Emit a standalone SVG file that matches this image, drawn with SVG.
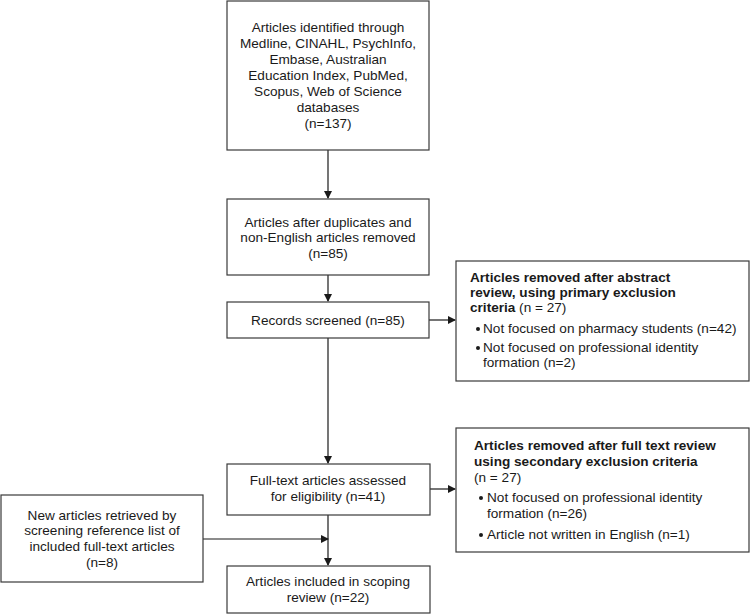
<svg xmlns="http://www.w3.org/2000/svg" width="754" height="614" viewBox="0 0 754 614">
<style>
.box{fill:#fff;stroke:#3a3a3a;stroke-width:1.2}
.t{font-family:"Liberation Sans",Arial,sans-serif;font-size:13.6px;fill:#1a1a1a}
.c{text-anchor:middle}
.b{font-weight:bold}
.d{fill:#1a1a1a}
.ln{stroke:#1a1a1a;stroke-width:1.2;fill:none}
</style>
<defs>
<marker id="ah" markerWidth="8" markerHeight="8" refX="7" refY="4" orient="auto" markerUnits="userSpaceOnUse">
<path d="M0,0 L8,4 L0,8 Z" fill="#1a1a1a"/>
</marker>
</defs>
<rect width="754" height="614" fill="#fff"/>
<g id="connectors">
<line class="ln" x1="328" y1="150" x2="328" y2="198" marker-end="url(#ah)"/>
<line class="ln" x1="328" y1="275" x2="328" y2="301" marker-end="url(#ah)"/>
<line class="ln" x1="328" y1="338" x2="328" y2="463" marker-end="url(#ah)"/>
<line class="ln" x1="328" y1="515" x2="328" y2="565" marker-end="url(#ah)"/>
<line class="ln" x1="429" y1="320" x2="455" y2="320" marker-end="url(#ah)"/>
<line class="ln" x1="430" y1="489" x2="455" y2="489" marker-end="url(#ah)"/>
<line class="ln" x1="203" y1="539" x2="328" y2="539" marker-end="url(#ah)"/>
</g>
<g id="n1">
<rect class="box" x="227" y="1" width="202" height="149"/>
<text class="t c" x="328" y="32">Articles identified through</text>
<text class="t c" x="328" y="48">Medline, CINAHL, PsychInfo,</text>
<text class="t c" x="328" y="64">Embase, Australian</text>
<text class="t c" x="328" y="80">Education Index, PubMed,</text>
<text class="t c" x="328" y="96">Scopus, Web of Science</text>
<text class="t c" x="328" y="112">databases</text>
<text class="t c" x="328" y="128">(n=137)</text>
</g>
<g id="n2">
<rect class="box" x="227" y="199" width="202" height="76"/>
<text class="t c" x="328" y="227">Articles after duplicates and</text>
<text class="t c" x="328" y="242">non-English articles removed</text>
<text class="t c" x="328" y="258">(n=85)</text>
</g>
<g id="n3">
<rect class="box" x="227" y="302" width="202" height="36"/>
<text class="t c" x="328" y="325">Records screened (n=85)</text>
</g>
<g id="n4">
<rect class="box" x="456" y="261" width="293" height="120"/>
<text class="t b" x="470" y="282">Articles removed after abstract</text>
<text class="t b" x="470" y="297">review, using primary exclusion</text>
<text class="t" x="470" y="312"><tspan class="b">criteria</tspan> (n = 27)</text>
<circle class="d" cx="478" cy="329" r="2"/>
<text class="t" x="483" y="333">Not focused on pharmacy students (n=42)</text>
<circle class="d" cx="478" cy="348" r="2"/>
<text class="t" x="483" y="352">Not focused on professional identity</text>
<text class="t" x="483" y="367">formation (n=2)</text>
</g>
<g id="n5">
<rect class="box" x="227" y="464" width="203" height="51"/>
<text class="t c" x="328" y="485">Full-text articles assessed</text>
<text class="t c" x="328" y="501">for eligibility (n=41)</text>
</g>
<g id="n6">
<rect class="box" x="456" y="428" width="293" height="124"/>
<text class="t b" x="474" y="450">Articles removed after full text review</text>
<text class="t b" x="474" y="466">using secondary exclusion criteria</text>
<text class="t" x="474" y="482">(n = 27)</text>
<circle class="d" cx="481" cy="498" r="2"/>
<text class="t" x="487" y="502">Not focused on professional identity</text>
<text class="t" x="487" y="518">formation (n=26)</text>
<circle class="d" cx="481" cy="535" r="2"/>
<text class="t" x="487" y="539">Article not written in English (n=1)</text>
</g>
<g id="n7">
<rect class="box" x="1" y="495" width="202" height="87"/>
<text class="t c" x="102" y="520">New articles retrieved by</text>
<text class="t c" x="102" y="535">screening reference list of</text>
<text class="t c" x="102" y="551">included full-text articles</text>
<text class="t c" x="102" y="567">(n=8)</text>
</g>
<g id="n8">
<rect class="box" x="227" y="566" width="203" height="47"/>
<text class="t c" x="328" y="586">Articles included in scoping</text>
<text class="t c" x="328" y="602">review (n=22)</text>
</g>
</svg>
